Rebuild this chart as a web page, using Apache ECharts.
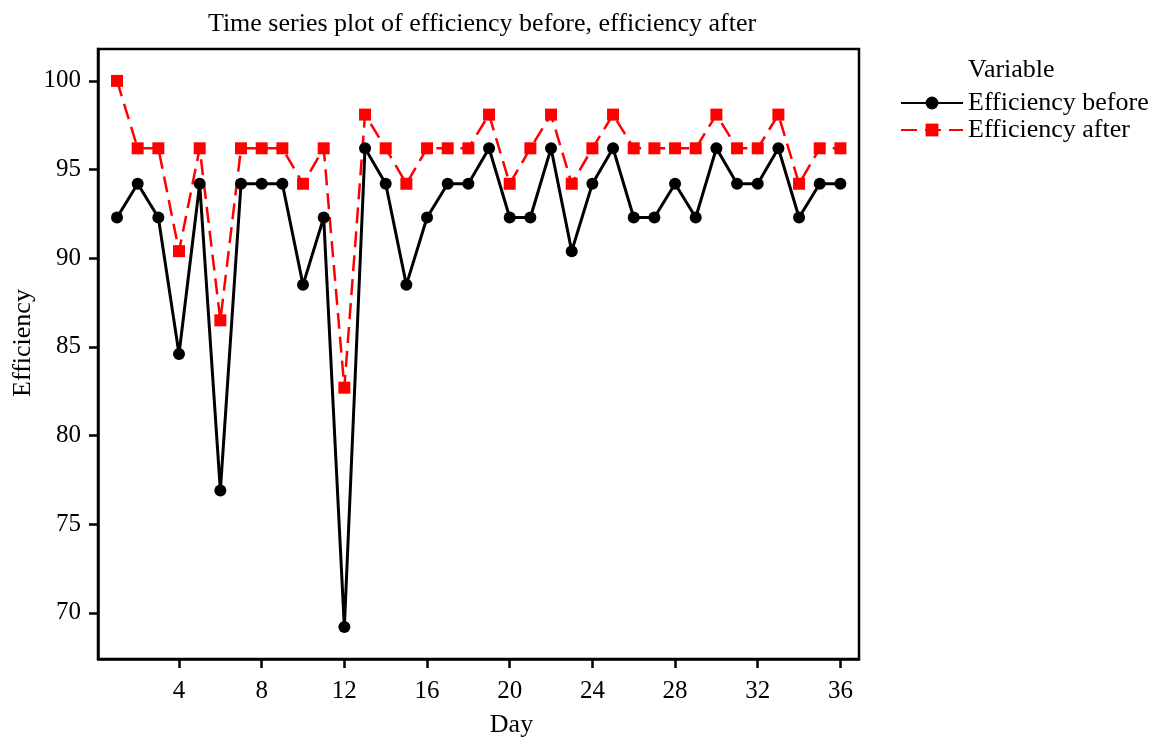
<!DOCTYPE html>
<html>
<head>
<meta charset="utf-8">
<script src="https://cdn.jsdelivr.net/npm/echarts@6/dist/echarts.min.js"></script>
<style>
  html, body { margin: 0; padding: 0; background: #fff; }
  #chart { width: 1162px; height: 738px; }
</style>
</head>
<body>
<div id="chart"></div>
<script>
// time series: efficiency before / after, per day
const days = [1, 2, 3, 4, 5, 6, 7, 8, 9, 10, 11, 12, 13, 14, 15, 16, 17, 18,
  19, 20, 21, 22, 23, 24, 25, 26, 27, 28, 29, 30, 31, 32, 33, 34, 35, 36];

const effBefore = [92.3, 94.2, 92.3, 84.6, 94.2, 76.9, 94.2, 94.2, 94.2, 88.5, 92.3, 69.2,
  96.2, 94.2, 88.5, 92.3, 94.2, 94.2, 96.2, 92.3, 92.3, 96.2, 90.4, 94.2,
  96.2, 92.3, 92.3, 94.2, 92.3, 96.2, 94.2, 94.2, 96.2, 92.3, 94.2, 94.2];

const effAfter = [100, 96.2, 96.2, 90.4, 96.2, 86.5, 96.2, 96.2, 96.2, 94.2, 96.2, 82.7,
  98.1, 96.2, 94.2, 96.2, 96.2, 96.2, 98.1, 94.2, 96.2, 98.1, 94.2, 96.2,
  98.1, 96.2, 96.2, 96.2, 96.2, 98.1, 96.2, 96.2, 98.1, 94.2, 96.2, 96.2];

const xTicks = [4, 8, 12, 16, 20, 24, 28, 32, 36];
const yTicks = [70, 75, 80, 85, 90, 95, 100];

const FONT = "'Liberation Serif', 'DejaVu Serif', serif";
const FS = 26;   // words
const FN = 25;   // tick numbers

const pairs = vals => days.map((d, i) => [d, vals[i]]);

const chart = echarts.init(document.getElementById("chart"));
chart.setOption({
  animation: false,
  backgroundColor: "#fff",
  textStyle: { fontFamily: FONT, color: "#000" },
  title: [
    {
      text: "Time series plot of efficiency before, efficiency after",
      left: 477, top: 6, textAlign: "center",
      textStyle: { fontFamily: FONT, fontSize: FS, fontWeight: "normal", color: "#000" }
    },
    {
      text: "Variable",
      left: 963, top: 52,
      textStyle: { fontFamily: FONT, fontSize: FS, fontWeight: "normal", color: "#000" }
    }
  ],
  legend: {
    orient: "vertical",
    left: 895, top: 85,
    itemWidth: 62, itemHeight: 16, itemGap: 1,
    data: ["Efficiency before", "Efficiency after"],
    textStyle: { fontFamily: FONT, fontSize: FS, color: "#000" }
  },
  grid: {
    left: 98, top: 49, right: 303, bottom: 79,
    outerBoundsMode: "none", containLabel: false,
    show: true, borderColor: "#000", borderWidth: 2.5, backgroundColor: "transparent"
  },
  xAxis: {
    type: "value",
    min: 0.08, max: 36.9,
    name: "Day", nameLocation: "middle", nameGap: 53,
    nameTextStyle: { fontFamily: FONT, fontSize: FS, color: "#000", padding: [0, 0, 0, 66] },
    axisLine: { show: true, lineStyle: { color: "#000", width: 2.5 } },
    axisTick: { show: true, length: 9, lineStyle: { color: "#000", width: 2.5 }, customValues: xTicks },
    axisLabel: { fontFamily: FONT, fontSize: FN, color: "#000", margin: 20, customValues: xTicks },
    splitLine: { show: false }
  },
  yAxis: {
    type: "value",
    min: 67.4, max: 101.8,
    name: "Efficiency", nameLocation: "middle", nameGap: 62, nameMoveOverlap: false,
    nameTextStyle: { fontFamily: FONT, fontSize: FS, color: "#000", padding: [0, 0, 0, 22] },
    axisLine: { show: true, lineStyle: { color: "#000", width: 2.5 } },
    axisTick: { show: true, length: 9, lineStyle: { color: "#000", width: 2.5 }, customValues: yTicks },
    axisLabel: { fontFamily: FONT, fontSize: FN, color: "#000", margin: 17, customValues: yTicks },
    splitLine: { show: false }
  },
  series: [
    {
      name: "Efficiency after",
      type: "line",
      data: pairs(effAfter),
      symbol: "rect", symbolSize: 12,
      itemStyle: { color: "#ff0000" },
      lineStyle: { color: "#ff0000", width: 2.5, type: [16, 8] },
      z: 2
    },
    {
      name: "Efficiency before",
      type: "line",
      data: pairs(effBefore),
      symbol: "circle", symbolSize: 12,
      itemStyle: { color: "#000" },
      lineStyle: { color: "#000", width: 3 },
      z: 3
    }
  ]
});
</script>
</body>
</html>
